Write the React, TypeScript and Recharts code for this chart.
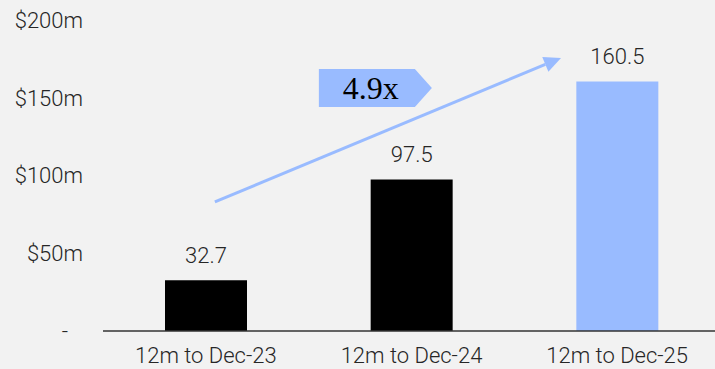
import React from 'react'
import {
  BarChart, Bar, XAxis, YAxis, Cell, LabelList, ReferenceLine, ReferenceDot,
} from 'recharts'

const categories = ['12m to Dec-23', '12m to Dec-24', '12m to Dec-25']
const values = [32.7, 97.5, 160.5]
const barColors = ['#000000', '#000000', '#99bbff']
const yTicks = [0, 50, 100, 150, 200]
const multipleLabel = '4.9x'
// growth arrow + callout, placed on a hidden numeric axis (bar centres at 0, 1, 2)
const arrowStart = { x: 0.044, y: 83 }
const arrowEnd = { x: 1.727, y: 175.6 }
const calloutAt = { x: 0.783, y: 156.3 }

const data = categories.map((name, i) => ({ name, pos: i, value: values[i] }))

const FONT = 'Roboto, "Open Sans", sans-serif'
const BLUE = '#99bbff'
const TEXT = '#262626'

const fmtY = (v: number) => (v === 0 ? '-' : `$${v}m`)

function YTick(props: any) {
  const { x, y, payload } = props
  const isZero = payload.value === 0
  return (
    <text
      x={isZero ? x - 15 : x}
      y={y}
      dy="0.355em"
      textAnchor="end"
      fill={TEXT}
      fontSize={22}
      fontFamily={FONT}
      fontWeight={300}
    >
      {fmtY(payload.value)}
    </text>
  )
}

function Arrow(props: any) {
  const { x1, y1, x2, y2 } = props
  const ang = Math.atan2(y2 - y1, x2 - x1)
  const len = 17
  const half = 8
  const bx = x2 - len * Math.cos(ang)
  const by = y2 - len * Math.sin(ang)
  const px = -Math.sin(ang) * half
  const py = Math.cos(ang) * half
  return (
    <g>
      <line x1={x1} y1={y1} x2={bx} y2={by} stroke={BLUE} strokeWidth={3} />
      <polygon points={`${x2},${y2} ${bx + px},${by + py} ${bx - px},${by - py}`} fill={BLUE} />
    </g>
  )
}

function Callout(props: any) {
  const { cx, cy } = props
  const l = cx - 48
  const r = cx + 48
  const t = cy - 19
  const b = cy + 19
  return (
    <g>
      <polygon points={`${l},${t} ${r},${t} ${cx + 65},${cy} ${r},${b} ${l},${b}`} fill={BLUE} />
      <text
        x={cx + 4}
        y={cy + 11}
        textAnchor="middle"
        fill="#000"
        fontSize={32}
        fontFamily='"Liberation Serif", "Times New Roman", serif'
      >
        {multipleLabel}
      </text>
    </g>
  )
}

export default function App() {
  return (
    <div
      style={{
        position: 'absolute', left: 0, top: 0, width: 715, height: 369,
        overflow: 'hidden', background: '#f2f2f2',
      }}
    >
      <BarChart
        width={720}
        height={369}
        data={data}
        margin={{ top: 20, right: 0, left: 0, bottom: 0 }}
      >
        <XAxis
          dataKey="name"
          height={38}
          axisLine={{ stroke: '#333', strokeWidth: 1.5 }}
          tickLine={false}
          tickSize={0}
          tickMargin={16}
          tick={{ fill: TEXT, fontSize: 22, fontFamily: FONT, fontWeight: 300 }}
        />
        <XAxis
          xAxisId="n"
          dataKey="pos"
          type="number"
          domain={[-0.5, 2.5]}
          allowDataOverflow
          hide
        />
        <YAxis
          width={103}
          domain={[0, 200]}
          ticks={yTicks}
          interval={0}
          axisLine={false}
          tickLine={false}
          tickSize={0}
          tickMargin={20}
          tick={<YTick />}
        />
        <Bar dataKey="value" barSize={82} isAnimationActive={false}>
          {data.map((d, i) => (
            <Cell key={d.name} fill={barColors[i]} />
          ))}
          <LabelList
            dataKey="value"
            position="top"
            offset={17}
            fill={TEXT}
            fontSize={22}
            fontFamily={FONT}
            fontWeight={300}
            formatter={(v: any) => Number(v).toFixed(1)}
          />
        </Bar>
        <ReferenceLine
          xAxisId="n"
          segment={[arrowStart, arrowEnd]}
          ifOverflow="visible"
          shape={<Arrow />}
        />
        <ReferenceDot
          xAxisId="n"
          x={calloutAt.x}
          y={calloutAt.y}
          r={0}
          ifOverflow="visible"
          shape={<Callout />}
        />
      </BarChart>
    </div>
  )
}
